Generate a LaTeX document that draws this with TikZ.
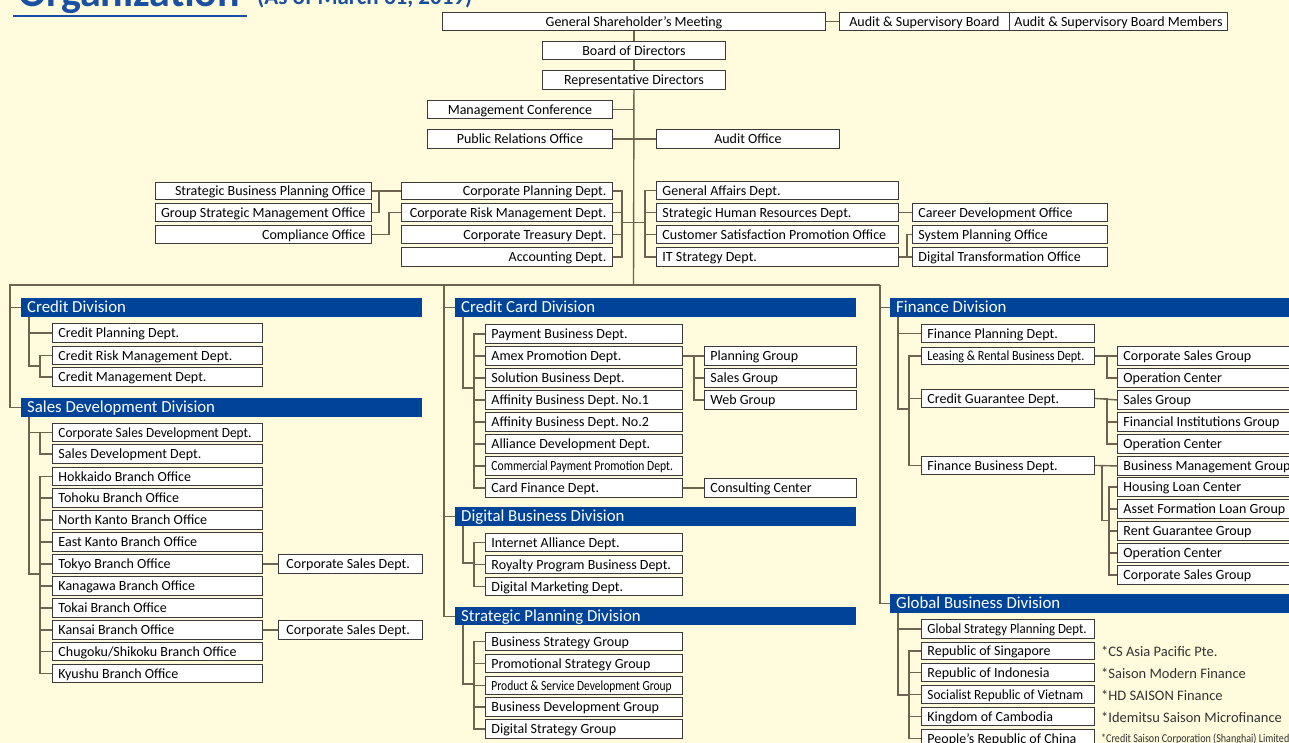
\documentclass[tikz,border=0pt]{standalone}
\usepackage{fontspec}
\usepackage{graphicx}
\setmainfont{Carlito}
\usetikzlibrary{calc}
\frenchspacing

\definecolor{bg}{HTML}{FFFBDC}
\definecolor{divblue}{HTML}{00449A}
\definecolor{ln}{HTML}{6E6250}
\definecolor{bd}{HTML}{3A3A3A}
\definecolor{ttl}{HTML}{1A50A2}

% horizontally squeezed text
\newcommand\sq[2]{\scalebox{#1}[1]{#2}}

% box: [l|c|r]{name}{x1}{y1}{x2}{y2}{text}
\newcommand\bx[7][l]{%
  \pgfmathsetmacro\bxw{#5-#3-12}%
  \pgfmathsetmacro\bxh{#6-#4}%
  \node[box,anchor=north west,minimum height=\bxh pt] (#2) at (#3,#4) {\makebox[\bxw pt][#1]{#7}};}

% division bar: {name}{x1}{y1}{x2}{y2}{text}
\newcommand\dv[6]{%
  \pgfmathsetmacro\bxw{#4-#2-12}%
  \pgfmathsetmacro\bxh{#5-#3}%
  \node[divbar,anchor=north west,minimum height=\bxh pt] (#1) at (#2,#3) {\makebox[\bxw pt][l]{#6}};}

\tikzset{
  box/.style={draw=bd,fill=white,line width=0.9pt,inner xsep=6pt,inner ysep=0pt,
    font=\fontsize{14}{15}\selectfont,text height=11pt,text depth=1pt},
  divbar/.style={fill=divblue,text=white,inner xsep=6pt,inner ysep=0pt,
    font=\fontsize{16.8}{17}\selectfont,text height=12.5pt,text depth=2.5pt},
  conn/.style={draw=ln,line width=1.4pt},
  note/.style={anchor=west,inner sep=0pt,font=\fontsize{14.5}{15}\selectfont,text=black!80}
}

\begin{document}
\begin{tikzpicture}[x=1pt,y=-1pt]
\useasboundingbox (0,0) rectangle (1289,743);
\clip (0,0) rectangle (1289,743);
\fill[bg] (0,0) rectangle (1289,743);

% ---- heading ----
\node[anchor=base west,inner sep=0pt,text=ttl,font=\fontsize{42}{42}\bfseries\selectfont] (title) at (18,6.5) {Organization};
\node[anchor=base west,inner sep=0pt,text=ttl,font=\fontsize{23}{23}\bfseries\selectfont] (asof) at (257,5) {(As of March 31, 2019)};
\draw[ttl,line width=2.2pt] (13,16) -- (247,16);

% ---- top management ----
\bx[c]{gsm}{442}{12}{825}{30}{General Shareholder’s Meeting}
\bx[c]{asb}{839}{12}{1009}{30}{Audit \& Supervisory Board}
\bx[c]{asm}{1009}{12}{1227}{30}{Audit \& Supervisory Board Members}
\bx[c]{bod}{542}{41}{725}{59}{Board of Directors}
\bx[c]{rep}{542}{70}{725}{89}{Representative Directors}
\bx[c]{mgc}{427}{100}{612}{118}{Management Conference}
\bx[c]{pro}{427}{129}{612}{148}{Public Relations Office}
\bx[c]{aud}{656}{129}{839}{148}{Audit Office}

% ---- corporate offices, left ----
\bx[r]{sbp}{155}{182}{371}{199}{Strategic Business Planning Office}
\bx[r]{gsmo}{155}{203}{371}{221}{Group Strategic Management Office}
\bx[r]{cmp}{155}{225}{371}{243}{Compliance Office}
\bx[r]{cpd}{401}{182}{612}{199}{Corporate Planning Dept.}
\bx[r]{crm}{401}{203}{612}{221}{Corporate Risk Management Dept.}
\bx[r]{ctd}{401}{225}{612}{243}{Corporate Treasury Dept.}
\bx[r]{acc}{401}{247}{612}{266}{Accounting Dept.}

% ---- corporate offices, right ----
\bx{gad}{656}{181}{898}{199}{General Affairs Dept.}
\bx{shr}{656}{203}{898}{221}{Strategic Human Resources Dept.}
\bx{csp}{656}{225}{898}{243}{Customer Satisfaction Promotion Office}
\bx{its}{656}{247}{898}{266}{IT Strategy Dept.}
\bx{cdo}{912}{203}{1107}{221}{Career Development Office}
\bx{spo}{912}{225}{1107}{243}{System Planning Office}
\bx{dto}{912}{247}{1107}{266}{Digital Transformation Office}

% ---- Credit / Sales Development ----
\dv{cdv}{21}{298}{422}{317}{Credit Division}
\bx{cpl}{52}{323}{262}{342}{Credit Planning Dept.}
\bx{crk}{52}{346}{262}{364}{Credit Risk Management Dept.}
\bx{cmg}{52}{367}{262}{386}{Credit Management Dept.}
\dv{sdv}{21}{398}{422}{417}{Sales Development Division}
\bx{csd}{52}{423}{262}{441}{\sq{0.95}{Corporate Sales Development Dept.}}
\bx{sdp}{52}{444}{262}{463}{Sales Development Dept.}
\bx{hok}{52}{467}{262}{485}{Hokkaido Branch Office}
\bx{toh}{52}{488}{262}{507}{Tohoku Branch Office}
\bx{nkt}{52}{510}{262}{529}{North Kanto Branch Office}
\bx{ekt}{52}{532}{262}{551}{East Kanto Branch Office}
\bx{tky}{52}{554}{262}{573}{Tokyo Branch Office}
\bx{kng}{52}{576}{262}{595}{Kanagawa Branch Office}
\bx{tok}{52}{598}{262}{617}{Tokai Branch Office}
\bx{ksi}{52}{620}{262}{639}{Kansai Branch Office}
\bx{chu}{52}{642}{262}{660}{Chugoku/Shikoku Branch Office}
\bx{kyu}{52}{664}{262}{682}{Kyushu Branch Office}
\bx{tcs}{278}{554}{422}{573}{\hspace{2pt}Corporate Sales Dept.}
\bx{kcs}{278}{620}{422}{639}{\hspace{2pt}Corporate Sales Dept.}

% ---- Credit Card / Digital / Strategic Planning ----
\dv{ccd}{455}{298}{856}{317}{Credit Card Division}
\bx{pay}{485}{324}{682}{343}{Payment Business Dept.}
\bx{amx}{485}{346}{682}{365}{Amex Promotion Dept.}
\bx{sol}{485}{368}{682}{387}{Solution Business Dept.}
\bx{af1}{485}{390}{682}{409}{Affinity Business Dept. No.1}
\bx{af2}{485}{412}{682}{431}{Affinity Business Dept. No.2}
\bx{ald}{485}{434}{682}{453}{Alliance Development Dept.}
\bx{cpp}{485}{456}{682}{475}{\sq{0.83}{Commercial Payment Promotion Dept.}}
\bx{cfd}{485}{478}{682}{497}{Card Finance Dept.}
\bx{plg}{704}{346}{856}{365}{Planning Group}
\bx{slg}{704}{368}{856}{387}{Sales Group}
\bx{web}{704}{390}{856}{409}{Web Group}
\bx{ccn}{704}{478}{856}{497}{Consulting Center}
\dv{dbd}{455}{507}{856}{526}{Digital Business Division}
\bx{ial}{485}{533}{682}{551}{Internet Alliance Dept.}
\bx{rpb}{485}{555}{682}{573}{Royalty Program Business Dept.}
\bx{dmk}{485}{577}{682}{595}{Digital Marketing Dept.}
\dv{spd}{455}{607}{856}{625}{Strategic Planning Division}
\bx{bsg}{485}{632}{682}{650}{Business Strategy Group}
\bx{psg}{485}{654}{682}{672}{Promotional Strategy Group}
\bx{pds}{485}{676}{682}{694}{\sq{0.82}{Product \& Service Development Group}}
\bx{bdg}{485}{697}{682}{716}{Business Development Group}
\bx{dsg}{485}{719}{682}{738}{Digital Strategy Group}

% ---- Finance / Global Business ----
\dv{fdv}{890}{298}{1300}{317}{Finance Division}
\bx{fpl}{921}{324}{1094}{342}{Finance Planning Dept.}
\bx{lrb}{921}{347}{1094}{364}{\sq{0.87}{Leasing \& Rental Business Dept.}}
\bx{cgd}{921}{389}{1094}{407}{Credit Guarantee Dept.}
\bx{fbd}{921}{456}{1094}{474}{Finance Business Dept.}
\bx{lcs}{1117}{346}{1300}{365}{Corporate Sales Group}
\bx{loc}{1117}{368}{1300}{387}{Operation Center}
\bx{gsg}{1117}{390}{1300}{409}{Sales Group}
\bx{fig}{1117}{412}{1300}{431}{Financial Institutions Group}
\bx{goc}{1117}{434}{1300}{453}{Operation Center}
\bx{bmg}{1117}{456}{1300}{475}{Business Management Group}
\bx{hlc}{1117}{477}{1300}{496}{Housing Loan Center}
\bx{afl}{1117}{499}{1300}{518}{Asset Formation Loan Group}
\bx{rgg}{1117}{521}{1300}{540}{Rent Guarantee Group}
\bx{foc}{1117}{543}{1300}{562}{Operation Center}
\bx{fcs}{1117}{565}{1300}{584}{Corporate Sales Group}
\dv{gbd}{890}{594}{1300}{613}{Global Business Division}
\bx{gsp}{921}{619}{1094}{638}{\sq{0.92}{Global Strategy Planning Dept.}}
\bx{sgp}{921}{642}{1094}{659}{Republic of Singapore}
\bx{idn}{921}{663}{1094}{681}{Republic of Indonesia}
\bx{vnm}{921}{685}{1094}{703}{\sq{0.95}{Socialist Republic of Vietnam}}
\bx{khm}{921}{707}{1094}{725}{Kingdom of Cambodia}
\bx{chn}{921}{729}{1094}{747}{People’s Republic of China}
\node[note] (n1) at (1101,651.5) {*CS Asia Pacific Pte.};
\node[note] (n2) at (1101,673) {*Saison Modern Finance};
\node[note] (n3) at (1101,695) {*HD SAISON Finance};
\node[note] (n4) at (1101,717) {*Idemitsu Saison Microfinance};
\node[note,font=\fontsize{12}{13}\selectfont] (n5) at (1101,739) {\sq{0.84}{*Credit Saison Corporation (Shanghai) Limited}};

% ---- junction points ----
\coordinate (spine) at (633.5,285);
\coordinate (busL) at (10,285);
\coordinate (busM) at (444,285);
\coordinate (busR) at (880,285);
\coordinate (jl) at (622,222.5);
\coordinate (jr) at (645,222.5);
\coordinate (cdT) at (29,317);
\coordinate (cbr) at (40,366);
\coordinate (sdT) at (29,417);
\coordinate (sbr) at (40,574);
\coordinate (ccT) at (463,317);
\coordinate (ccbr) at (474,388);
\coordinate (dbT) at (463,526);
\coordinate (dbbr) at (474,563);
\coordinate (spT) at (463,625);
\coordinate (spbr) at (474,684);
\coordinate (fT) at (898,317);
\coordinate (fbr) at (909,409);
\coordinate (fbj) at (1102,520.5);
\coordinate (fbk) at (1109,520.5);
\coordinate (gT) at (898,613);
\coordinate (gbr) at (909,695);

% ---- connectors: top ----
\draw[conn] (gsm.south) -- (bod.north);
\draw[conn] (bod.south) -- (rep.north);
\draw[conn] (rep.south) -- (spine);
\draw[conn] (gsm.east) -- (asb.west);
\draw[conn] (mgc.east) -- (mgc.east -| spine);
\draw[conn] (pro.east) -- (aud.west);
\draw[conn] (sbp.east) -- (cpd.west);
\draw[conn] (gsmo.east) -| ($(sbp.east)+(7,0)$);
\draw[conn] (cmp.east) -- ++(17,0) |- (crm.west);
\draw[conn] (cpd.east) -| (jl) |- (acc.east);
\draw[conn] (crm.east) -- (crm.east -| jl);
\draw[conn] (ctd.east) -- (ctd.east -| jl);
\draw[conn] (jl) -- (jr);
\draw[conn] (gad.west) -| (jr) |- (its.west);
\draw[conn] (shr.west) -- (shr.west -| jr);
\draw[conn] (csp.west) -- (csp.west -| jr);
\draw[conn] (shr.east) -- (cdo.west);
\draw[conn] (its.east) -- (dto.west);
\draw[conn] (its.east) -- ++(8,0) |- (spo.west);

% ---- connectors: bus and divisions ----
\draw[conn] (busR) |- (gbd.west);
\draw[conn] (busR) -- (busL) |- (sdv.west);
\draw[conn] (busM) |- (spd.west);
\draw[conn] (cdv.west) -- (cdv.west -| busL);
\draw[conn] (ccd.west) -- (ccd.west -| busM);
\draw[conn] (dbd.west) -- (dbd.west -| busM);
\draw[conn] (fdv.west) -- (fdv.west -| busR);

% Credit Division
\draw[conn] (cdT) |- (cpl.west);
\draw[conn] (cdT) |- (cbr);
\draw[conn] (crk.west) -| (cbr) |- (cmg.west);
% Sales Development Division
\draw[conn] (sdT) |- (csd.west);
\draw[conn] (csd.west) -| ($(sbr)+(0,-141.5)$) |- (sdp.west);
\draw[conn] (sdT) |- (sbr);
\draw[conn] (hok.west) -| (sbr) |- (kyu.west);
\foreach \n in {toh,nkt,ekt,tky,kng,tok,ksi,chu}
  \draw[conn] (\n.west) -- (\n.west -| sbr);
\draw[conn] (tky.east) -- (tcs.west);
\draw[conn] (ksi.east) -- (kcs.west);

% Credit Card Division
\draw[conn] (ccT) |- (ccbr);
\draw[conn] (pay.west) -| (ccbr) |- (cfd.west);
\foreach \n in {amx,sol,af1,af2,ald,cpp}
  \draw[conn] (\n.west) -- (\n.west -| ccbr);
\draw[conn] (amx.east) -- (plg.west);
\draw[conn] (amx.east) -- ++(11,0) |- (web.west);
\draw[conn] (slg.west) -- ++(-11,0);
\draw[conn] (cfd.east) -- (ccn.west);
% Digital Business Division
\draw[conn] (dbT) |- (dbbr);
\draw[conn] (ial.west) -| (dbbr) |- (dmk.west);
\draw[conn] (rpb.west) -- (rpb.west -| dbbr);
% Strategic Planning Division
\draw[conn] (spT) |- (spbr);
\draw[conn] (bsg.west) -| (spbr) |- (dsg.west);
\foreach \n in {psg,pds,bdg}
  \draw[conn] (\n.west) -- (\n.west -| spbr);

% Finance Division
\draw[conn] (fT) |- (fpl.west);
\draw[conn] (fT) |- (fbr);
\draw[conn] (lrb.west) -| (fbr) |- (fbd.west);
\draw[conn] (cgd.west) -- (cgd.west -| fbr);
\draw[conn] (lrb.east) -- (lcs.west);
\draw[conn] (lrb.east) -- ++(12,0) |- (loc.west);
\draw[conn] (cgd.east) -- (gsg.west);
\draw[conn] (cgd.east) -- ++(12,0) |- (goc.west);
\draw[conn] (fig.west) -- ++(-11,0);
\draw[conn] (fbd.east) -- (bmg.west);
\draw[conn] (fbd.east -| fbj) -- (fbj) -- (fbk);
\draw[conn] (hlc.west) -| (fbk) |- (fcs.west);
\foreach \n in {afl,rgg,foc}
  \draw[conn] (\n.west) -- (\n.west -| fbk);
% Global Business Division
\draw[conn] (gT) |- (gsp.west);
\draw[conn] (gT) |- (gbr);
\draw[conn] (sgp.west) -| (gbr) |- (chn.west);
\foreach \n in {idn,vnm,khm}
  \draw[conn] (\n.west) -- (\n.west -| gbr);
\end{tikzpicture}
\end{document}
